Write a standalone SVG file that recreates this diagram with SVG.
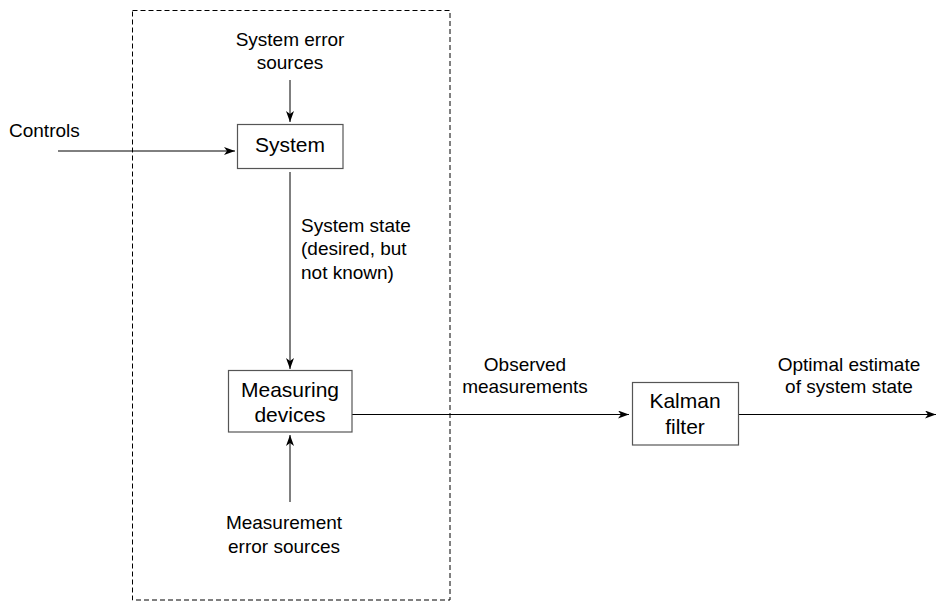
<svg xmlns="http://www.w3.org/2000/svg" width="936" height="603" viewBox="0 0 936 603">
<defs>
<style>
.box{fill:#fff;stroke:#555;stroke-width:1.2}
.bt{font-family:"Liberation Sans",Arial,sans-serif;font-size:21px;fill:#000;text-anchor:middle}
.lb{font-family:"Liberation Sans",Arial,sans-serif;font-size:19px;fill:#000}
.ln{fill:none;stroke:#000;stroke-width:1}
</style>
<marker id="ah" markerUnits="userSpaceOnUse" markerWidth="12" markerHeight="10" refX="11" refY="4" orient="auto">
<path d="M0,0 L11,4 L0,8 L3,4 z" fill="#000"/>
</marker>
</defs>
<rect x="132.5" y="10.5" width="317.5" height="589.5" fill="none" stroke="#000" stroke-width="1" stroke-dasharray="5,3"/>
<g id="connectors">
<line class="ln" x1="58" y1="151" x2="235" y2="151" marker-end="url(#ah)"/>
<line class="ln" x1="290" y1="80" x2="290" y2="122" marker-end="url(#ah)"/>
<line class="ln" x1="290" y1="172" x2="290" y2="369" marker-end="url(#ah)"/>
<line class="ln" x1="290" y1="502" x2="290" y2="435" marker-end="url(#ah)"/>
<line class="ln" x1="352" y1="414.5" x2="629" y2="414.5" marker-end="url(#ah)"/>
<line class="ln" x1="739" y1="414.5" x2="936" y2="414.5" marker-end="url(#ah)"/>
</g>
<g id="system">
<rect class="box" x="237.5" y="124.5" width="105.5" height="44"/>
<text class="bt" x="290" y="152">System</text>
</g>
<g id="measuring">
<rect class="box" x="228.5" y="370.5" width="123.5" height="61.5"/>
<text class="bt" x="290" y="397">Measuring</text>
<text class="bt" x="290" y="422">devices</text>
</g>
<g id="kalman">
<rect class="box" x="632.5" y="382.5" width="106" height="62.5"/>
<text class="bt" x="685" y="408">Kalman</text>
<text class="bt" x="685" y="434">filter</text>
</g>
<g id="labels">
<text class="lb" x="9" y="137">Controls</text>
<text class="lb" x="290" y="46" text-anchor="middle">System error</text>
<text class="lb" x="290" y="69" text-anchor="middle">sources</text>
<text class="lb" x="301" y="232">System state</text>
<text class="lb" x="301" y="255">(desired, but</text>
<text class="lb" x="301" y="279">not known)</text>
<text class="lb" x="284" y="529" text-anchor="middle">Measurement</text>
<text class="lb" x="284" y="553" text-anchor="middle">error sources</text>
<text class="lb" x="525" y="371" text-anchor="middle">Observed</text>
<text class="lb" x="525" y="393" text-anchor="middle">measurements</text>
<text class="lb" x="849" y="371" text-anchor="middle">Optimal estimate</text>
<text class="lb" x="849" y="393" text-anchor="middle">of system state</text>
</g>
</svg>
